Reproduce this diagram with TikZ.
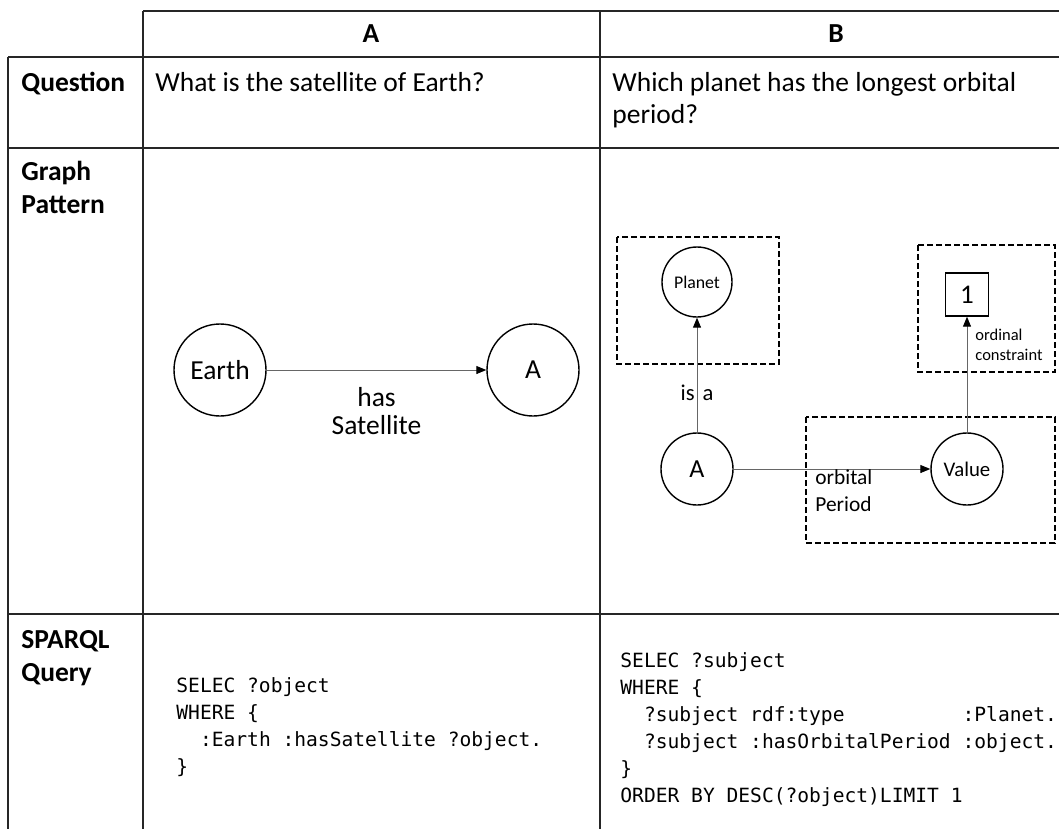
\documentclass[tikz,border=0pt]{standalone}
\usepackage{fontspec}
\setmainfont{Carlito}
\newfontfamily\codefont{DejaVu Sans Mono}
\usetikzlibrary{arrows.meta}

\begin{document}
\begin{tikzpicture}[
    x=0.5pt, y=-0.5pt,
    grid/.style={line width=1pt, draw=black!85},
    cell/.style={inner sep=0pt, font=\fontsize{13.75}{16.25}\selectfont},
    head/.style={inner sep=0pt, font=\fontsize{13.75}{16.25}\selectfont\bfseries},
    ent/.style={circle, draw, line width=0.7pt, inner sep=0pt, minimum size=46pt},
    lbl/.style={inner sep=0pt, align=left},
    code/.style={inner sep=0pt, align=left, anchor=base west, font=\codefont\fontsize{9.8}{13.5}\selectfont},
    grp/.style={draw, line width=0.7pt, dash pattern=on 3pt off 1.5pt},
    >={Triangle[length=5pt, width=4pt, color=black]},
    rel/.style={->, draw=black!60, line width=0.5pt},
]

    \fill[white] (0,0) rectangle (1059,829);

    % table
    \draw[grid] (143,11) -- (1059,11);
    \foreach \y in {57,148,614}
        \draw[grid] (8,\y) -- (1059,\y);
    \draw[grid] (8,57) -- (8,829);
    \draw[grid] (143,11) -- (143,829);
    \draw[grid] (600,11) -- (600,829);

    \node[head] (hA) at (371,34) {A};
    \node[head] (hB) at (836,34) {B};
    % multi-line nodes: base = baseline of the last line
    \node[head, anchor=base west] (rowQ) at (21,91) {Question};
    \node[head, anchor=base west, align=left] (rowG) at (21,213) {Graph\\Pattern};
    \node[head, anchor=base west, align=left] (rowS) at (21,681) {SPARQL\\Query};

    \node[cell, anchor=base west] (qA) at (155,91) {What is the satellite of Earth?};
    \node[cell, anchor=base west, align=left] (qB) at (612,124) {Which planet has the longest orbital\\period?};

    % graph A
    \node[ent, font=\fontsize{13.75}{16}\selectfont] (earth) at (220,370) {Earth};
    \node[ent, font=\fontsize{13.75}{16}\selectfont] (sat) at (533,370) {A};

    \draw[rel] (earth) -- node[below=8.5pt, inner sep=0pt, align=center, font=\fontsize{13.75}{14}\selectfont] (hasSat) {has\\Satellite} (sat);

    % graph B
    \draw[grp] (617,237) rectangle (779,364);
    \draw[grp] (918,245) rectangle (1055,372);
    \draw[grp] (806,417) rectangle (1055,543);

    \node[ent, minimum size=35pt, font=\fontsize{8.9}{10}\selectfont] (planet) at (697,282) {Planet};
    \node[ent, minimum size=36pt, font=\fontsize{13}{15}\selectfont] (subj) at (697,469) {A};
    \node[ent, minimum size=36pt, font=\fontsize{10.4}{12}\selectfont] (val) at (967,469) {Value};
    \node[draw, line width=0.7pt, minimum size=21.5pt, inner sep=0pt, font=\fontsize{13.5}{15}\selectfont] (rank) at (967,294.5) {1};

    \draw[rel] (subj) -- node[pos=0.345, inner sep=0pt, font=\fontsize{11.3}{13}\selectfont] (isA) {is\hspace{4pt}a} (planet);
    \draw[rel] (subj) -- (val);
    \draw[rel] (val) -- (rank);

    \node[lbl, anchor=north west, font=\fontsize{10.7}{13.5}\selectfont] (orbP) at (815,469) {orbital\\Period};
    \node[lbl, anchor=north west, font=\fontsize{8.25}{10}\selectfont] (ordC) at (975,329) {ordinal\\constraint};

    % queries
    \node[code] (qryA) at (176,773) {SELEC ?object\\WHERE \{\\\hphantom{xx}:Earth :hasSatellite ?object.\\\}};
    \node[code] (qryB) at (620,802) {SELEC ?subject\\WHERE \{\\\hphantom{xx}?subject rdf:type\hphantom{xxxxxxxxxx}:Planet.\\\hphantom{xx}?subject :hasOrbitalPeriod :object.\\\}\\ORDER BY DESC(?object)LIMIT 1};

    \pgfresetboundingbox
    \useasboundingbox (0,0) rectangle (1059,829);

\end{tikzpicture}
\end{document}
